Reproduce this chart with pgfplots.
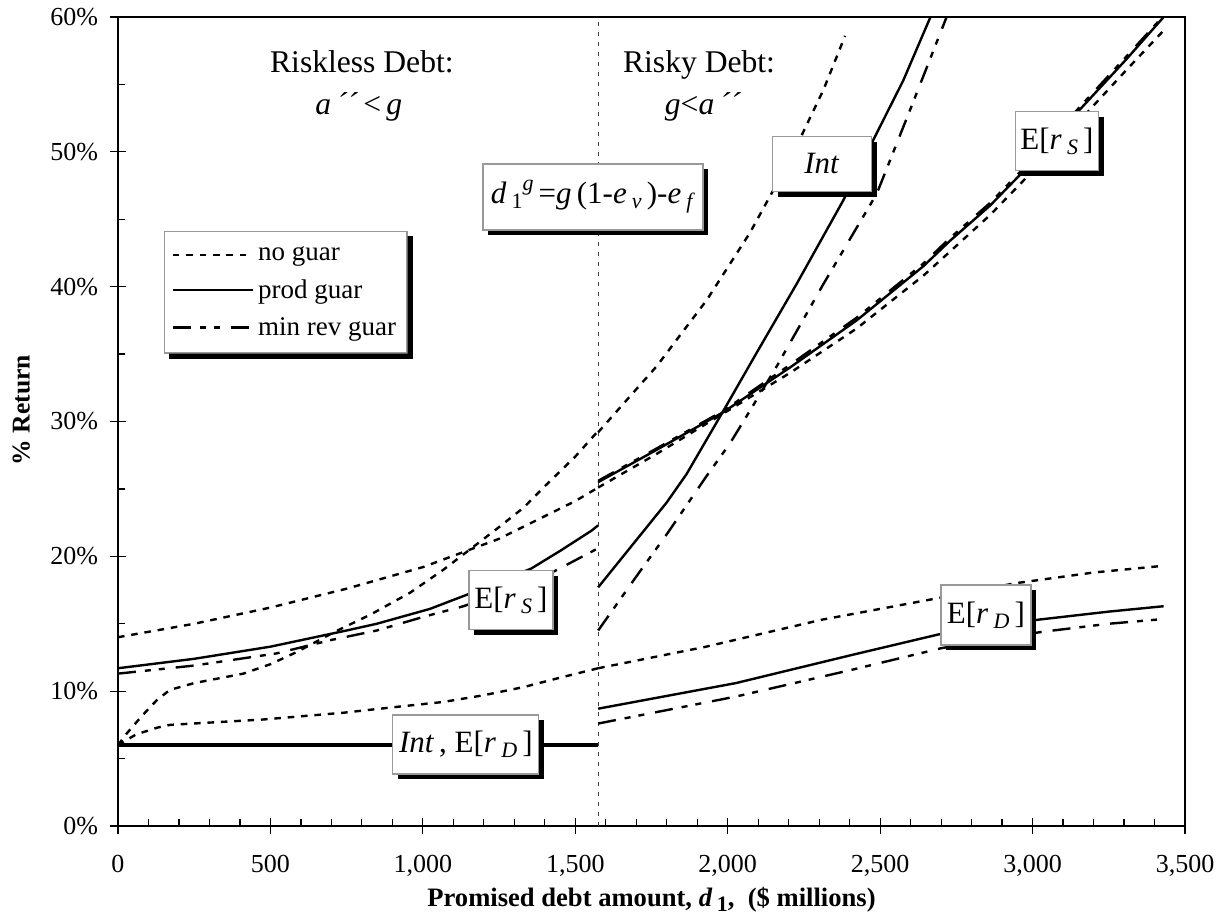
\documentclass[border=0pt]{standalone}
\usepackage{pgfplots}
\pgfplotsset{compat=1.18}
\usepackage{fontspec}
\setmainfont{Liberation Serif}
\usetikzlibrary{shadows}
\newcommand{\sub}[1]{\raisebox{-0.35ex}{\fontsize{11}{11}\selectfont #1}}
\newcommand{\sups}[1]{\raisebox{0.9ex}{\fontsize{11}{11}\selectfont #1}}
\begin{document}
\begin{tikzpicture}[
  myshadow/.style={drop shadow={shadow xshift=2.6pt, shadow yshift=-2.6pt, fill=black, opacity=1}},
  lbox/.style={draw=gray!80, line width=0.6pt, fill=white, inner sep=0pt, myshadow, font=\fontsize{15.5}{18}\selectfont},
  nog/.style={black, line width=1.2pt, dash pattern=on 3.3pt off 3.4pt},
  prod/.style={black, line width=1.2pt},
  minr/.style={black, line width=1.2pt, dash pattern=on 9pt off 4.5pt on 3pt off 4pt on 3pt off 5.5pt}
]
\begin{axis}[
  scale only axis, width=533.5pt, height=404.5pt,
  xmin=0, xmax=3500, ymin=0, ymax=60,
  xtick={0,500,...,3500}, minor x tick num=4,
  ytick={0,10,...,60}, minor y tick num=1,
  tick pos=left,
  tick align=inside, major tick length=7.5pt, minor tick length=3.5pt,
  major x tick style={yshift=-3.75pt}, major y tick style={xshift=-3.75pt},
  tick style={black, line width=0.6pt},
  axis line style={line width=0.6pt},
  /pgf/number format/assume math mode=true,
  /pgf/number format/1000 sep={,},
  yticklabel={\pgfmathprintnumber{\tick}\%},
  xticklabel style={font=\fontsize{13}{15}\selectfont, yshift=-11pt},
  yticklabel style={font=\fontsize{13}{15}\selectfont, xshift=-6.5pt},
  every axis x label/.style={at={(rel axis cs:0.5,0)}, yshift=-37pt, anchor=center, font=\fontsize{13.3}{16}\selectfont\bfseries},
  every axis y label/.style={at={(rel axis cs:0,0.5)}, xshift=-48.3pt, yshift=5.7pt, rotate=90, anchor=center, font=\fontsize{12.8}{15}\selectfont\bfseries},
  xlabel={Promised debt amount, \textit{d}\,\sub{1},\ \ (\$ millions)},
  ylabel={\% Return},
  clip=true,
  legend style={name=leg, at={(axis cs:151,44.13)}, anchor=north west, draw=gray!80, line width=0.6pt, fill=white,
    font=\fontsize{13.5}{16}\selectfont, row sep=4pt, inner xsep=3.5pt, inner ysep=5.5pt,
    /tikz/every even column/.append style={column sep=2.5pt}},
  legend cell align=left,
  legend image code/.code={\draw[#1] (0pt,0pt) -- (40pt,0pt);},
]
\addlegendimage{nog}\addlegendentry{no guar}
\addlegendimage{prod}\addlegendentry{prod guar}
\addlegendimage{minr}\addlegendentry{min rev guar}

% divider
\addplot[forget plot, gray!50!black, line width=0.5pt, dash pattern=on 2pt off 3pt] coordinates {(1575,0) (1575,60)};

% ---------- left region ----------
\addplot[forget plot, black, line width=1.8pt] coordinates {(0,6) (1575,6)};
% no guar Int (left)
\addplot[forget plot, nog] coordinates {
(0,6.0) (30,6.9) (80,8.2) (130,9.4) (171,10.1) (250,10.6) (411,11.3) (500,12.0) (586,12.9) (711,14.4) (830,15.7) (958,17.3) (1067,19.0) (1177,20.9) (1246,22.1) (1330,23.6) (1400,25.2) (1500,27.4) (1575,29.3)};
% no guar E[rS] (left)
\addplot[forget plot, nog] coordinates {
(0,14.0) (250,15.0) (500,16.2) (750,17.6) (1000,19.2) (1250,21.3) (1500,24.1) (1575,25.1)};
% prod E[rS] (left)
\addplot[forget plot, prod] coordinates {
(0,11.7) (250,12.4) (500,13.3) (750,14.5) (849,15.0) (1023,16.1) (1150,17.2) (1250,18.1) (1356,19.1) (1450,20.4) (1553,21.9) (1575,22.3)};
% min rev E[rS] (left)
\addplot[forget plot, minr] coordinates {
(0,11.3) (250,11.9) (520,12.8) (700,13.8) (849,14.5) (1000,15.5) (1133,16.3) (1300,17.6) (1432,18.9) (1575,20.6)};
% no guar E[rD] (left)
\addplot[forget plot, nog] coordinates {
(0,6.0) (60,6.8) (130,7.3) (171,7.5) (477,7.9) (739,8.4) (900,8.8) (1067,9.2) (1200,9.7) (1330,10.3) (1450,11.0) (1575,11.7)};

% ---------- right region ----------
% E[rS]
\addplot[forget plot, nog] coordinates {
(1575,25.1) (1767,27.6) (1986,30.6) (2204,33.6) (2423,36.9) (2641,40.8) (2729,42.6) (2860,45.3) (2959,47.6) (3166,52.6) (3309,56.1) (3430,59.0)};
\addplot[forget plot, prod] coordinates {
(1575,25.5) (1767,27.9) (1986,30.7) (2204,34.0) (2423,37.5) (2641,41.5) (2729,43.4) (2860,46.0) (2959,48.3) (3166,53.4) (3309,56.9) (3430,60.0)};
\addplot[forget plot, minr] coordinates {
(1575,25.6) (1767,28.0) (1986,30.8) (2204,34.2) (2423,37.7) (2641,41.7) (2729,43.6) (2860,46.2) (2959,48.5) (3166,53.6) (3309,57.1) (3430,60.1)};
% Int
\addplot[forget plot, nog] coordinates {
(1575,29.2) (1767,34.1) (1931,39.0) (2073,44.0) (2204,49.4) (2314,54.6) (2385,58.6)};
\addplot[forget plot, prod] coordinates {
(1575,17.7) (1700,21.2) (1800,24.0) (1865,26.1) (1986,30.8) (2095,35.1) (2226,40.2) (2379,46.4) (2478,50.9) (2576,55.3) (2665,60.0)};
\addplot[forget plot, minr] coordinates {
(1575,14.5) (1700,18.5) (1802,21.7) (1929,25.9) (2008,28.4) (2081,31.1) (2161,34.1) (2314,40.2) (2489,46.9) (2598,53.1) (2718,60.0)};
% E[rD]
\addplot[forget plot, nog] coordinates {
(1575,11.7) (1929,13.3) (2309,15.3) (2690,16.9) (2942,18.0) (3200,18.8) (3430,19.3)};
\addplot[forget plot, prod] coordinates {
(1575,8.7) (2027,10.6) (2410,12.7) (2690,14.2) (3018,15.3) (3250,15.9) (3430,16.3)};
\addplot[forget plot, minr] coordinates {
(1575,7.6) (2027,9.6) (2410,11.6) (2703,13.2) (3031,14.4) (3250,15.0) (3430,15.35)};

% ---------- labels ----------
\node[font=\fontsize{15.8}{18}\selectfont] at (axis cs:800,56.66) {Riskless Debt:};
\node[font=\fontsize{15.8}{18}\selectfont] at (axis cs:790,53.33) {\textit{a}\,\textit{´´}\,<\,\textit{g}};
\node[font=\fontsize{15.8}{18}\selectfont] at (axis cs:1906,56.44) {Risky Debt:};
\node[font=\fontsize{15.8}{18}\selectfont] at (axis cs:1919,53.33) {\textit{g}<\textit{a}\,\textit{´´}};
\node[lbox, minimum width=110pt, minimum height=33pt] at (axis cs:1558,46.65)
  {\textit{d}\,\sub{1}\sups{\textit{g}}\,=\textit{g}\,(1-\textit{e}\,\sub{\textit{v}}\,)-\textit{e}\,\sub{\textit{f}}};
\node[lbox, minimum width=49.5pt, minimum height=27.5pt] at (axis cs:2309,49.1) {\textit{Int}};
\node[lbox, minimum width=41.5pt, minimum height=29.5pt] at (axis cs:3080,50.8) {E[\textit{r}\,\sub{\textit{S}}\,]};
\node[lbox, minimum width=42pt, minimum height=29.5pt] at (axis cs:1289,16.76) {E[\textit{r}\,\sub{\textit{S}}\,]};
\node[lbox, minimum width=73pt, minimum height=29.5pt] at (axis cs:1141,6.05) {\textit{Int}\,, E[\textit{r}\,\sub{\textit{D}}\,]};
\node[lbox, minimum width=45pt, minimum height=30pt] at (axis cs:2847,15.65) {E[\textit{r}\,\sub{\textit{D}}\,]};
\end{axis}
% legend drop shadow (visible L-shaped part)
\fill[black] ([yshift=-2.6pt]leg.north east) -- ([xshift=2.6pt,yshift=-2.6pt]leg.north east)
  -- ([xshift=2.6pt,yshift=-2.6pt]leg.south east) -- ([xshift=2.6pt,yshift=-2.6pt]leg.south west)
  -- ([xshift=2.6pt]leg.south west) -- (leg.south east) -- cycle;
\pgfresetboundingbox
\path[use as bounding box] (-59pt,-46.5pt) rectangle (553pt,413pt);
\end{tikzpicture}
\end{document}
